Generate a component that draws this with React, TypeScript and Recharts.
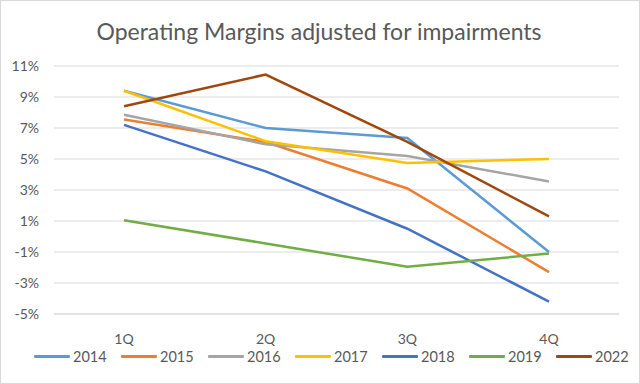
import React from 'react';
import { LineChart, Line, XAxis, YAxis, CartesianGrid, Legend } from 'recharts';

const quarters = ['1Q', '2Q', '3Q', '4Q'];
const s2014 = [9.4, 7.0, 6.35, -1.0];
const s2015 = [7.55, 6.1, 3.1, -2.3];
const s2016 = [7.85, 5.95, 5.2, 3.55];
const s2017 = [9.4, 6.15, 4.75, 5.0];
const s2018 = [7.2, 4.2, 0.5, -4.2];
const s2019 = [1.05, -0.45, -1.95, -1.1];
const s2022 = [8.4, 10.45, 6.1, 1.3];
const yTicks = [-5, -3, -1, 1, 3, 5, 7, 9, 11];

const seriesDefs = [
  { key: '2014', values: s2014, color: '#5B9BD5' },
  { key: '2015', values: s2015, color: '#ED7D31' },
  { key: '2016', values: s2016, color: '#A5A5A5' },
  { key: '2017', values: s2017, color: '#FFC000' },
  { key: '2018', values: s2018, color: '#4472C4' },
  { key: '2019', values: s2019, color: '#70AD47' },
  { key: '2022', values: s2022, color: '#9E480E' },
];

const data = quarters.map((q, i) => {
  const row: Record<string, any> = { q };
  seriesDefs.forEach((s) => (row[s.key] = s.values[i]));
  return row;
});

const FONT = 'Lato, "Open Sans", sans-serif';
const TXT = '#595959';

const LegendContent = (props: any) => {
  const payload = props.payload || [];
  return (
    <div style={{ display: 'flex', justifyContent: 'flex-start', alignItems: 'center', height: 20, fontFamily: FONT, fontSize: 14.5, color: TXT, paddingLeft: 34, width: 640, boxSizing: 'border-box' }}>
      {payload.map((p: any) => (
        <div key={p.value} style={{ display: 'flex', alignItems: 'center', width: 87, flex: 'none' }}>
          <div style={{ width: 36, height: 3, background: p.color, marginRight: 3, borderRadius: 1 }} />
          <span>{p.value}</span>
        </div>
      ))}
    </div>
  );
};

export default function App() {
  return (
    <div style={{ position: 'absolute', left: 0, top: 0, width: 640, height: 384, background: '#fff', boxSizing: 'border-box', border: '1px solid #d9d9d9', overflow: 'hidden' }}>
      <div style={{ position: 'absolute', top: 16, left: 0, width: 640, textAlign: 'center', fontFamily: FONT, fontSize: 23, color: TXT, paddingRight: 4, boxSizing: 'border-box' }}>
        Operating Margins adjusted for impairments
      </div>
      <div style={{ position: 'absolute', left: -1, top: -1 }}>
        <LineChart width={640} height={384} data={data} margin={{ top: 66, right: 21, bottom: 18, left: 0 }}>
          <CartesianGrid vertical={false} stroke="#d9d9d9" strokeWidth={1} />
          <XAxis dataKey="q" axisLine={{ stroke: '#d9d9d9' }} tickLine={false} tickMargin={14} height={32}
            padding={{ left: 70, right: 70 }}
            tick={{ fill: TXT, fontSize: 14, fontFamily: FONT }} />
          <YAxis domain={[-5, 11]} ticks={yTicks} interval={0} axisLine={false} tickLine={false} width={54} tickMargin={9}
            tickFormatter={(v: number) => `${v}%`} tick={{ fill: TXT, fontSize: 14, fontFamily: FONT }} />
          <Legend verticalAlign="bottom" content={<LegendContent />} />
          {seriesDefs.map((s) => (
            <Line key={s.key} dataKey={s.key} stroke={s.color} strokeWidth={2.5} dot={false} isAnimationActive={false} />
          ))}
        </LineChart>
      </div>
    </div>
  );
}
